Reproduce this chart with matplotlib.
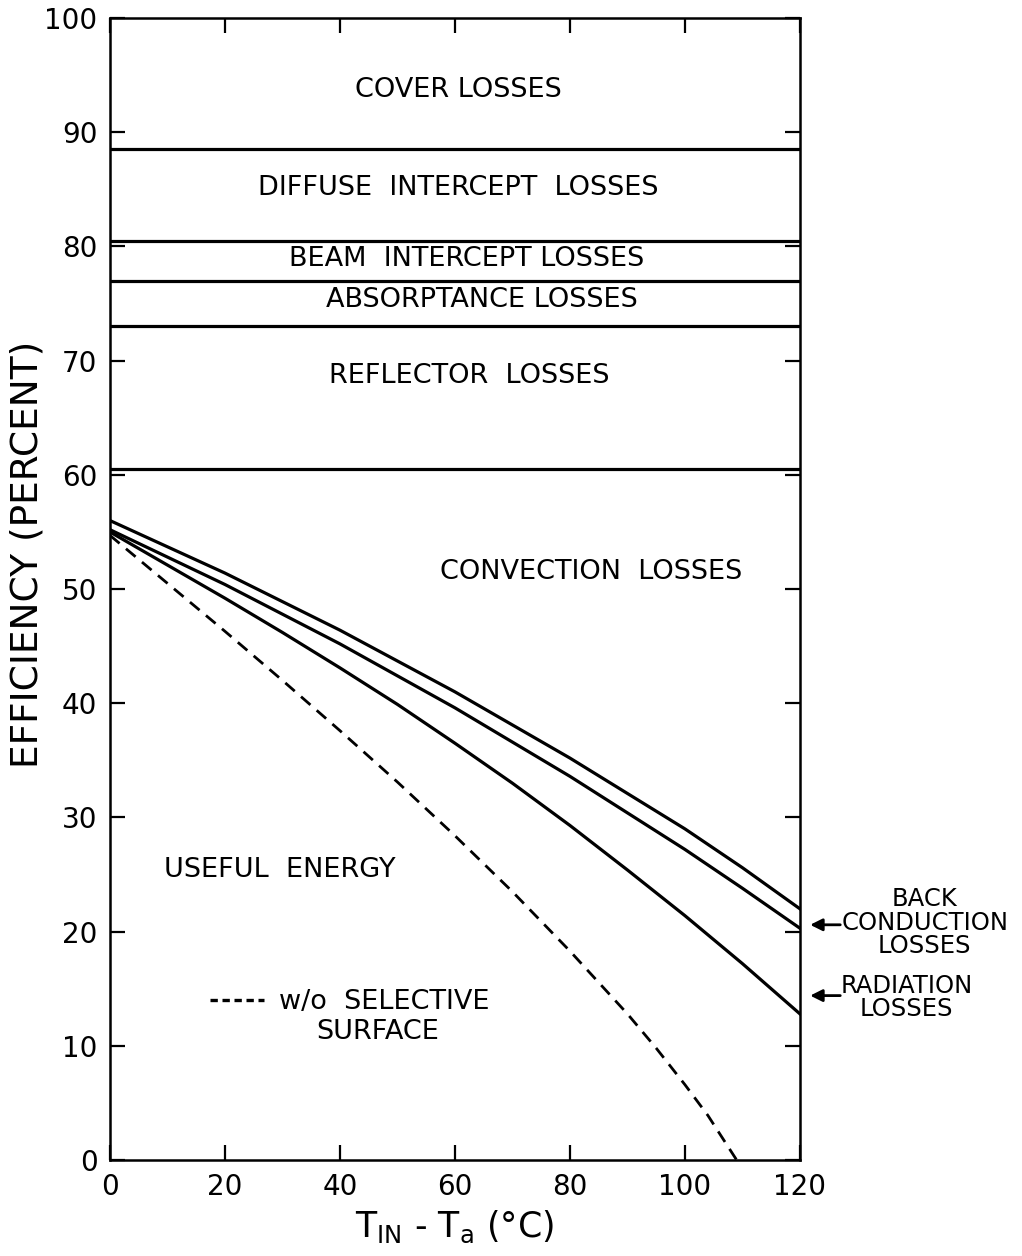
import matplotlib
matplotlib.use("Agg")
import matplotlib.pyplot as plt
from matplotlib.lines import Line2D

# values
temp_diff = [0, 10, 20, 30, 40, 50, 60, 70, 80, 90, 100, 110, 120]
eff_top = [56.0, 53.7, 51.4, 48.9, 46.4, 43.7, 41.0, 38.1, 35.2, 32.1, 29.0, 25.6, 22.0]
eff_mid = [55.2, 52.8, 50.4, 47.8, 45.2, 42.4, 39.6, 36.6, 33.6, 30.4, 27.2, 23.8, 20.3]
eff_low = [55.0, 52.1, 49.2, 46.2, 43.1, 39.9, 36.5, 33.0, 29.3, 25.4, 21.4, 17.2, 12.8]

temp_diff_ns = [0, 10, 20, 30, 40, 50, 60, 70, 80, 90, 95, 100, 104, 109]
eff_no_sel = [54.7, 50.5, 46.3, 42.0, 37.6, 33.1, 28.4, 23.5, 18.3, 12.8, 9.8, 6.6, 3.9, 0.0]

# loss band boundaries (constant lines)
band_levels = [88.5, 80.5, 77.0, 73.0, 60.5]
band_labels = ["COVER LOSSES", "DIFFUSE  INTERCEPT  LOSSES", "BEAM  INTERCEPT LOSSES",
               "ABSORPTANCE LOSSES", "REFLECTOR  LOSSES", "CONVECTION  LOSSES", "USEFUL  ENERGY"]
label_x = [60.6, 60.6, 62.0, 64.6, 62.5, 83.7, 29.6]
label_y = [93.7, 85.1, 78.9, 75.3, 68.7, 51.5, 25.4]

xticks = [0, 20, 40, 60, 80, 100, 120]
yticks = [0, 10, 20, 30, 40, 50, 60, 70, 80, 90, 100]

fig = plt.figure(figsize=(10.22, 12.56), dpi=100)
ax = fig.add_axes([0.1076, 0.0764, 0.6751, 0.9092])

for lvl in band_levels:
    ax.axhline(lvl, color="black", lw=2.3)

ax.plot(temp_diff, eff_top, color="black", lw=2.3)
ax.plot(temp_diff, eff_mid, color="black", lw=2.3)
ax.plot(temp_diff, eff_low, color="black", lw=2.3)
ax.plot(temp_diff_ns, eff_no_sel, color="black", lw=2.0, dashes=(4.5, 3))

for txt, tx, ty in zip(band_labels, label_x, label_y):
    ax.text(tx, ty, txt, ha="center", va="center", fontsize=19.5)

# legend for dashed line
h = Line2D([], [], color="black", lw=2.4, dashes=(2.2, 1.4))
leg = ax.legend([h], ["w/o  SELECTIVE"], loc="center left", bbox_to_anchor=(0.11, 0.138),
                frameon=False, fontsize=19.5, handlelength=2.0, handletextpad=0.55)
ax.text(46.5, 11.2, "SURFACE", ha="center", va="center", fontsize=19.5)

# right side annotations
ax.annotate("", xy=(121.3, 20.6), xytext=(127.5, 20.6),
            arrowprops=dict(arrowstyle="-|>", color="black", lw=2, mutation_scale=18),
            annotation_clip=False)
ax.text(141.7, 20.8, "BACK\nCONDUCTION\nLOSSES", ha="center", va="center",
        fontsize=17.5, linespacing=0.95)
ax.annotate("", xy=(121.3, 14.4), xytext=(127.5, 14.4),
            arrowprops=dict(arrowstyle="-|>", color="black", lw=2, mutation_scale=18),
            annotation_clip=False)
ax.text(138.6, 14.2, "RADIATION\nLOSSES", ha="center", va="center",
        fontsize=17.5, linespacing=0.95)

ax.set_xlim(0, 120)
ax.set_ylim(0, 100)
ax.set_xticks(xticks)
ax.set_yticks(yticks)
ax.tick_params(direction="in", length=11, width=1.6, labelsize=20,
               top=True, right=True, pad=9)
for s in ax.spines.values():
    s.set_linewidth(1.8)

ax.set_ylabel("EFFICIENCY (PERCENT)", fontsize=27)
ax.yaxis.set_label_coords(-0.094, 0.53)
ax.set_xlabel(r"T$_{\mathregular{IN}}$ - T$_{\mathregular{a}}$ (°C)", fontsize=25, labelpad=6)

fig.savefig("out.png", dpi=100)
